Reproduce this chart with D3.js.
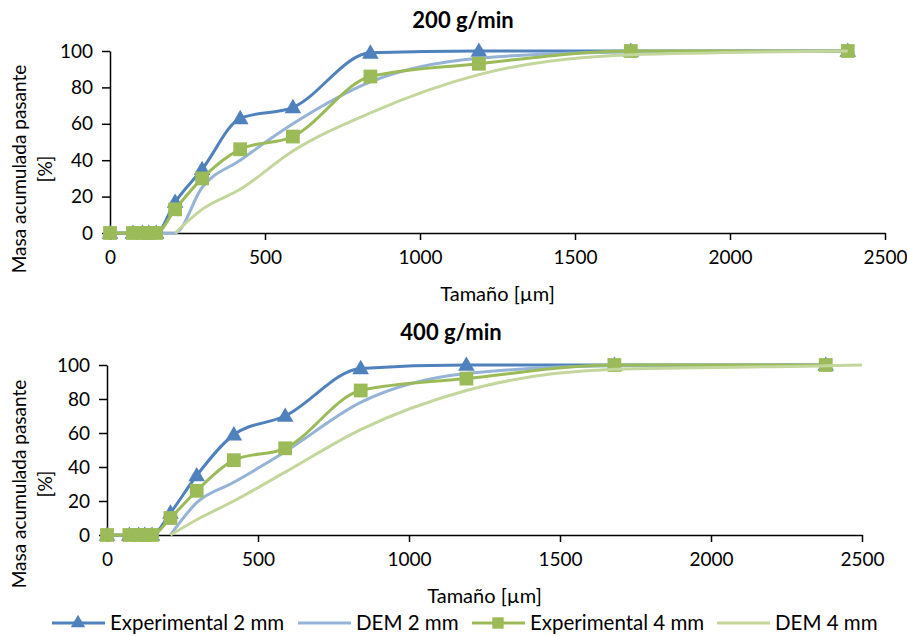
<!DOCTYPE html>
<html>
<head>
<meta charset="utf-8">
<script src="https://cdn.jsdelivr.net/npm/d3@7"></script>
<style>
  body { margin: 0; background: #fff; }
  text { font-family: Lato, "Open Sans", sans-serif; fill: #000; }
</style>
</head>
<body>
<svg id="chart" width="907" height="636"></svg>
<script>
// sieve sizes (µm) used by the experimental series
var sizes = [0, 74, 105, 125, 149, 210, 297, 420, 590, 840, 1190, 1680, 2380];

// 200 g/min
var exp2Top = [0, 0, 0, 0, 0, 17, 35, 63, 69, 99, 100, 100, 100];
var exp4Top = [0, 0, 0, 0, 0, 13, 30, 46, 53, 86, 93, 100, 100];
var dem2SizesTop = [149, 210, 297, 420, 590, 840, 1190, 1680, 2380];
var dem2Top = [0, 0, 25, 40, 60, 83, 96, 99.5, 100];
var dem4SizesTop = [210, 297, 420, 590, 840, 1190, 1680, 2380];
var dem4Top = [0, 13, 24, 45, 66, 87, 98, 100];

// 400 g/min
var exp2Bot = [0, 0, 0, 0, 0, 13, 35, 59, 70, 98, 100, 100, 100];
var exp4Bot = [0, 0, 0, 0, 0, 10, 26, 44, 51, 85, 92, 100, 100];
var dem2SizesBot = [210, 297, 420, 590, 840, 1190, 1680, 2380];
var dem2Bot = [0, 19, 31, 49, 78, 95, 99.5, 100];
var dem4SizesBot = [210, 297, 420, 590, 840, 1190, 1680, 2380, 2500];
var dem4Bot = [0, 9, 20, 37, 62, 85, 97.5, 99.5, 100];

var xTicks = [0, 500, 1000, 1500, 2000, 2500];
var yTicks = [0, 20, 40, 60, 80, 100];
var seriesNames = ["Experimental 2 mm", "DEM 2 mm", "Experimental 4 mm", "DEM 4 mm"];
var colors = ["#4f81bd", "#95b3d7", "#9bbb59", "#c3d69b"];

var svg = d3.select("#chart");

function zip(xs, ys) {
    return xs.map(function(x, i) { return { x: x, y: ys[i] }; });
}

function drawPanel(opt) {
    var x = d3.scaleLinear().domain([0, 2500]).range([opt.left, opt.right]);
    var y = d3.scaleLinear().domain([0, 100]).range([opt.bottom, opt.top]);
    var g = svg.append("g");

    // title
    g.append("text")
        .attr("x", opt.titleX).attr("y", opt.titleY)
        .attr("text-anchor", "middle")
        .style("font-size", "22px").style("font-weight", "bold")
        .text(opt.title);

    // axes
    var xAxis = g.append("g")
        .attr("transform", "translate(0," + opt.bottom + ")")
        .call(d3.axisBottom(x).tickValues(xTicks).tickFormat(d3.format("d"))
            .tickSize(7).tickSizeOuter(0).tickPadding(11));
    var yAxis = g.append("g")
        .attr("transform", "translate(" + opt.left + ",0)")
        .call(d3.axisLeft(y).tickValues(yTicks).tickSize(8).tickSizeOuter(0).tickPadding(9));
    [xAxis, yAxis].forEach(function(a) {
        a.select(".domain").attr("stroke", "#000").attr("stroke-width", 1.5);
        a.selectAll(".tick line").attr("stroke", "#000").attr("stroke-width", 1.5);
        a.selectAll(".tick text").style("font-size", "19px").attr("fill", "#000");
    });

    // axis titles
    g.append("text")
        .attr("x", (opt.left + opt.right) / 2).attr("y", opt.xTitleY)
        .attr("text-anchor", "middle")
        .style("font-size", "20px")
        .text("Tamaño [µm]");
    var yt = g.append("text")
        .attr("transform", "translate(26," + opt.yTitleY + ") rotate(-90)")
        .attr("text-anchor", "middle")
        .style("font-size", "19px");
    yt.append("tspan").attr("x", 0).attr("dy", 0).text("Masa acumulada pasante");
    yt.append("tspan").attr("x", 0).attr("dy", 26).text("[%]");

    var line = d3.line()
        .x(function(d) { return x(d.x); })
        .y(function(d) { return y(d.y); })
        .curve(d3.curveMonotoneX);

    var series = [
        { data: zip(sizes, opt.exp2), color: colors[0], marker: "triangle" },
        { data: zip(opt.dem2Sizes, opt.dem2), color: colors[1], marker: null },
        { data: zip(sizes, opt.exp4), color: colors[2], marker: "square" },
        { data: zip(opt.dem4Sizes, opt.dem4), color: colors[3], marker: null }
    ];

    series.forEach(function(s) {
        var sg = g.append("g");
        sg.append("path")
            .attr("d", line(s.data))
            .attr("fill", "none")
            .attr("stroke", s.color)
            .attr("stroke-width", 3)
            .attr("stroke-linejoin", "round");
        if (s.marker) {
            var sym = d3.symbol()
                .type(s.marker === "triangle" ? d3.symbolTriangle : d3.symbolSquare)
                .size(s.marker === "triangle" ? 120 : 190);
            sg.selectAll("path.mk")
                .data(s.data)
                .enter().append("path")
                .attr("class", "mk")
                .attr("d", sym)
                .attr("transform", function(d) {
                    var dy = s.marker === "triangle" ? 1 : 0;
                    return "translate(" + x(d.x) + "," + (y(d.y) + dy) + ")";
                })
                .attr("fill", s.color);
        }
    });
}

drawPanel({
    title: "200 g/min", titleX: 463, titleY: 28,
    left: 110, right: 885, top: 51, bottom: 233,
    xTitleY: 301, yTitleY: 169,
    exp2: exp2Top, exp4: exp4Top,
    dem2Sizes: dem2SizesTop, dem2: dem2Top,
    dem4Sizes: dem4SizesTop, dem4: dem4Top
});

drawPanel({
    title: "400 g/min", titleX: 451, titleY: 340,
    left: 107, right: 862, top: 365, bottom: 535,
    xTitleY: 603, yTitleY: 484,
    exp2: exp2Bot, exp4: exp4Bot,
    dem2Sizes: dem2SizesBot, dem2: dem2Bot,
    dem4Sizes: dem4SizesBot, dem4: dem4Bot
});

// legend
var legendX = [52, 298, 472, 717];
var legendY = 623;
var markers = ["triangle", null, "square", null];
var lg = svg.append("g");
seriesNames.forEach(function(name, i) {
    var x0 = legendX[i];
    lg.append("line")
        .attr("x1", x0).attr("x2", x0 + 53)
        .attr("y1", legendY).attr("y2", legendY)
        .attr("stroke", colors[i]).attr("stroke-width", 3);
    if (markers[i]) {
        lg.append("path")
            .attr("d", d3.symbol()
                .type(markers[i] === "triangle" ? d3.symbolTriangle : d3.symbolSquare)
                .size(markers[i] === "triangle" ? 90 : 130))
            .attr("transform", "translate(" + (x0 + 26) + "," + legendY + ")")
            .attr("fill", colors[i]);
    }
    lg.append("text")
        .attr("x", x0 + 58).attr("y", legendY + 7)
        .style("font-size", "20.5px")
        .text(name);
});
</script>
</body>
</html>
